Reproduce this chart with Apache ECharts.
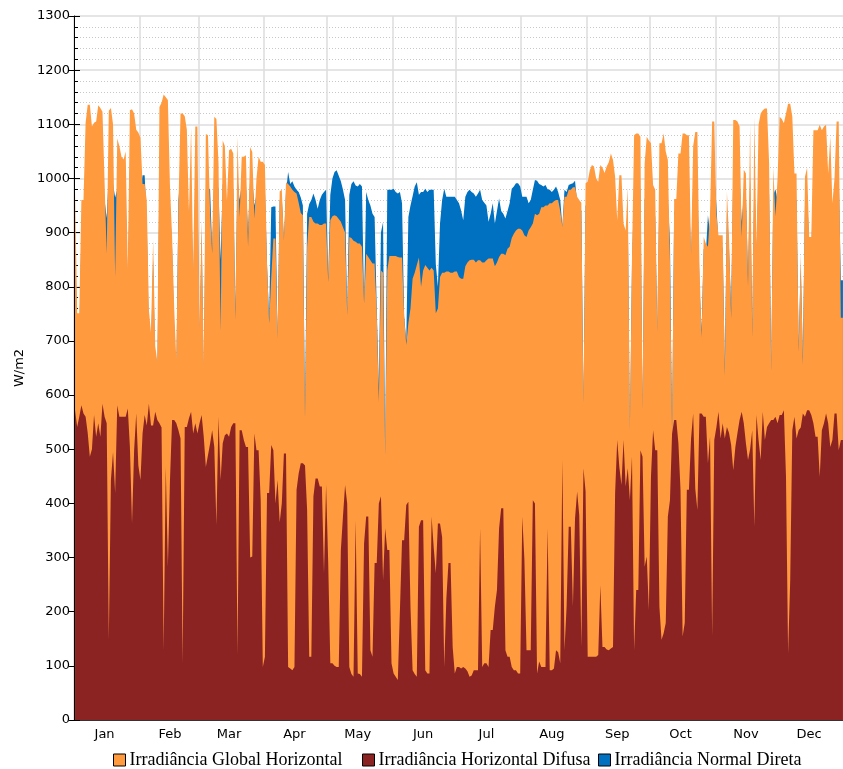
<!DOCTYPE html>
<html><head><meta charset="utf-8">
<script src="https://cdn.jsdelivr.net/npm/echarts/dist/echarts.min.js"></script>
<style>html,body{margin:0;padding:0;background:#fff}#c{width:843px;height:769px}</style>
</head><body><div id="c"></div>
<script>
const months = ['Jan','Feb','Mar','Apr','May','Jun','Jul','Aug','Sep','Oct','Nov','Dec'];
const monthStarts = [0,31,59,90,120,151,181,212,243,273,304,334];
const seriesNames = ['Irradiância Global Horizontal','Irradiância Horizontal Difusa','Irradiância Normal Direta'];
const yMin = 0, yMax = 1300, yStep = 100;

// Irradiância Global Horizontal (daily peak, W/m2)
const ghi = [
979,751,751,960,960,1103,1136,1136,1096,1103,
1105,1135,1130,1123,993,861,1125,1130,1100,818,
1074,1060,1040,1035,1050,831,1126,1128,1120,1090,
1085,1075,990,990,959,757,715,886,690,662,
1132,1140,1155,1150,1145,984,892,760,665,947,
1120,1120,1115,1090,935,1093,831,1096,1096,723,
923,654,1082,1080,941,861,1114,1110,1029,718,
1070,1060,959,1052,1055,1046,738,1077,929,1040,
1040,1043,874,1058,1049,926,1000,1040,1031,1031,
1025,843,732,818,889,889,705,976,979,886,
993,990,985,979,975,972,955,936,932,558,
874,929,929,920,917,917,914,914,917,917,
809,923,930,932,930,925,920,910,900,748,
892,890,885,883,880,880,874,769,861,855,
849,843,843,754,587,830,826,489,830,857,
857,857,857,855,854,854,745,693,733,760,
815,826,840,854,800,830,840,835,830,835,
830,751,760,818,826,826,828,828,826,826,
828,828,818,815,815,838,845,849,850,850,
845,849,849,845,845,849,852,852,852,838,
845,855,861,861,858,870,874,890,898,904,
907,907,904,895,892,904,910,917,935,932,
935,947,947,950,950,954,954,958,960,960,
940,911,966,966,979,979,984,984,966,960,
955,586,991,994,1015,1025,1022,1000,994,1025,
1020,1010,1022,1030,1046,1034,1003,923,1006,1006,
917,904,984,536,855,1080,1083,1083,1077,574,
1028,1077,1070,1065,988,979,718,1065,1065,1083,
1050,1034,849,530,962,962,1046,1046,1083,1083,
1080,1080,860,1060,1086,1086,835,707,892,880,
874,935,1105,1105,935,895,895,895,635,976,
892,741,1108,1108,1105,1096,892,1016,1009,800,
1099,707,1114,874,1099,1120,1126,1129,1129,1028,
644,1020,930,1000,1114,1110,1102,1120,1138,1138,
1114,1009,1009,680,861,655,1003,1020,892,892,
1089,1089,1089,1099,1089,1096,1099,1009,1077,954,
1000,1105,1105,743,743
];

// Irradiância Horizontal Difusa (daily peak, W/m2)
const dhi = [
572,541,560,581,566,560,530,486,500,563,
523,548,523,584,560,548,148,443,495,419,
581,560,560,560,560,575,504,363,498,566,
470,443,529,563,544,584,544,544,569,554,
548,540,129,467,283,443,554,554,548,535,
520,105,541,541,557,569,529,548,529,548,
563,523,467,489,510,535,504,360,560,443,
511,526,529,523,541,548,548,120,535,535,
517,504,504,300,302,529,498,498,406,98,
117,419,419,508,498,400,443,365,400,492,
492,98,95,92,98,425,455,474,474,470,
388,117,117,413,446,446,431,431,271,434,
290,105,105,100,98,98,314,376,434,400,
98,85,80,369,86,85,80,326,376,376,
129,117,290,290,400,413,258,354,314,314,
105,86,80,74,203,332,332,397,403,209,
92,85,80,357,369,369,92,86,86,376,
319,271,363,363,338,98,224,290,290,135,
86,98,98,95,98,95,90,80,82,92,
92,92,354,98,105,105,98,166,166,209,
240,354,391,391,129,117,117,98,92,92,
86,86,376,296,129,129,129,406,400,86,
108,98,98,98,354,92,92,95,129,125,
105,480,129,209,357,357,209,372,422,378,
135,465,422,117,117,117,117,117,120,249,
135,135,130,129,132,135,419,517,467,434,
517,431,465,406,486,129,240,240,498,486,
283,302,203,449,535,498,498,209,148,160,
179,376,406,529,554,554,511,425,154,179,
425,425,520,566,427,388,566,566,560,560,
474,523,154,517,540,569,520,548,520,541,
530,508,461,504,530,554,569,548,511,480,
500,535,357,563,517,480,569,517,541,548,
554,554,560,548,563,563,572,449,123,258,
535,560,520,535,540,566,560,572,572,563,
548,523,523,449,535,548,566,548,504,517,
566,566,498,517,517
];

// Irradiância Normal Direta (daily peak, W/m2)
const dni = [
900,700,700,900,920,1000,1020,1020,990,1000,
1000,1020,1010,1000,960,927,1010,1020,990,965,
980,960,950,950,960,800,1020,1020,1010,990,
980,980,1006,1006,920,700,680,850,650,620,
1020,1030,1040,1040,1030,950,870,720,630,960,
1010,1010,1000,990,920,990,800,990,990,700,
900,620,980,980,981,870,1000,1000,980,850,
990,980,930,980,990,980,760,1000,960,990,
990,990,900,1000,1000,950,970,990,990,990,
980,840,740,947,948,948,705,960,965,886,
975,1012,990,995,985,979,975,965,950,560,
935,953,960,972,960,944,960,970,975,979,
815,970,1000,1012,1015,1005,995,979,960,750,
970,990,995,987,985,990,985,770,975,960,
950,935,929,760,615,900,919,489,979,979,
979,981,975,972,975,954,745,700,929,950,
967,985,993,970,975,975,981,975,979,979,
979,842,800,917,960,981,966,966,966,966,
966,960,954,941,923,966,975,979,975,972,
966,972,979,960,955,950,920,935,954,917,
940,963,940,935,926,940,954,981,985,991,
991,985,966,966,966,954,960,979,997,996,
990,988,985,988,980,979,975,979,985,975,
960,911,979,975,988,990,991,996,955,950,
940,586,950,950,960,965,960,950,945,960,
955,950,960,965,970,965,945,900,950,950,
890,880,940,520,840,980,985,985,980,574,
960,985,980,975,930,930,718,975,980,990,
970,960,886,530,940,935,970,975,990,990,
985,985,850,990,1000,1000,800,720,870,860,
932,900,1010,1010,950,880,880,870,650,940,
870,760,1010,1010,1010,1000,920,970,970,820,
1000,720,1010,860,1000,1020,1020,1020,1020,970,
650,970,980,960,1010,1010,1000,1010,1020,1020,
1010,960,960,690,840,670,950,970,880,860,
1000,1000,1000,1000,1000,1000,1000,960,990,920,
950,1010,1010,812,812
];

const days = [];
for (let i = 1; i <= ghi.length; i++) days.push(String(i));
const startSet = new Set(monthStarts);
const labelAt = {};
monthStarts.forEach((s, i) => { labelAt[s + 14] = months[i]; });

const SANS = 'DejaVu Sans';
const chart = echarts.init(document.getElementById('c'), null, {renderer: 'canvas'});
const mk = (name, data, color, z) => ({
  name, type: 'line', data, z, symbol: 'none', showSymbol: false, silent: true,
  lineStyle: {width: 0}, itemStyle: {color},
  areaStyle: {color, opacity: 1}, animation: false
});
const legendLefts = [113, 362, 598];
const legendOrder = [0, 1, 2];
chart.setOption({
  animation: false,
  backgroundColor: '#ffffff',
  grid: {left: 74, right: -1, top: 16, bottom: 49, outerBoundsMode: 'none'},
  legend: legendOrder.map((k) => ({
    data: [seriesNames[k]], left: legendLefts[k], top: 751, icon: 'rect',
    itemWidth: 12, itemHeight: 12, itemGap: 0, padding: 0,
    itemStyle: {borderColor: '#000', borderWidth: 1},
    textStyle: {fontFamily: 'Liberation Serif', fontSize: 18, color: '#000', padding: [0, 0, 0, -1]}
  })),
  xAxis: [{
    type: 'category', data: days, boundaryGap: true,
    axisLine: {show: true, lineStyle: {color: '#000', width: 1}},
    axisTick: {show: true, inside: true, length: 5, interval: (i) => startSet.has(i), lineStyle: {color: '#000'}},
    splitLine: {show: true, interval: (i) => startSet.has(i), lineStyle: {color: '#dddddd', width: 1.5}},
    axisLabel: {interval: (i) => labelAt[i] !== undefined, formatter: (v, i) => labelAt[i] || '',
      color: '#000', fontFamily: SANS, fontSize: 13, margin: 8}
  }, {
    type: 'category', data: days, boundaryGap: true, position: 'top',
    axisLine: {show: true, lineStyle: {color: '#333', width: 1}},
    axisTick: {show: false}, axisLabel: {show: false}, splitLine: {show: false}
  }],
  yAxis: [{
    type: 'value', min: yMin, max: yMax, interval: yStep,
    name: 'W/m2', nameLocation: 'middle', nameGap: 43, nameRotate: 90,
    nameTextStyle: {color: '#000', fontFamily: SANS, fontSize: 13},
    axisLine: {show: true, lineStyle: {color: '#000', width: 1}},
    axisTick: {show: true, inside: true, length: 6, lineStyle: {color: '#000'}},
    minorTick: {show: true, splitNumber: 5, length: 4, lineStyle: {color: '#000'}},
    axisLabel: {color: '#000', fontFamily: SANS, fontSize: 13, margin: 4, formatter: (v) => String(v)},
    splitLine: {show: true, lineStyle: {color: '#dddddd', width: 1.5}},
    minorSplitLine: {show: true, lineStyle: {color: '#c8c8c8', width: 1, type: [1, 2]}}
  }, {
    type: 'value', min: yMin, max: yMax, interval: yStep, position: 'left',
    axisLine: {show: false}, axisLabel: {show: false}, splitLine: {show: false},
    axisTick: {show: true, inside: false, length: 5, lineStyle: {color: '#000'}}
  }],
  series: [
    mk(seriesNames[2], dni, '#0070C0', 2),
    mk(seriesNames[0], ghi, '#FF9A3E', 3),
    mk(seriesNames[1], dhi, '#8B2323', 4)
  ]
});
</script>
</body></html>
